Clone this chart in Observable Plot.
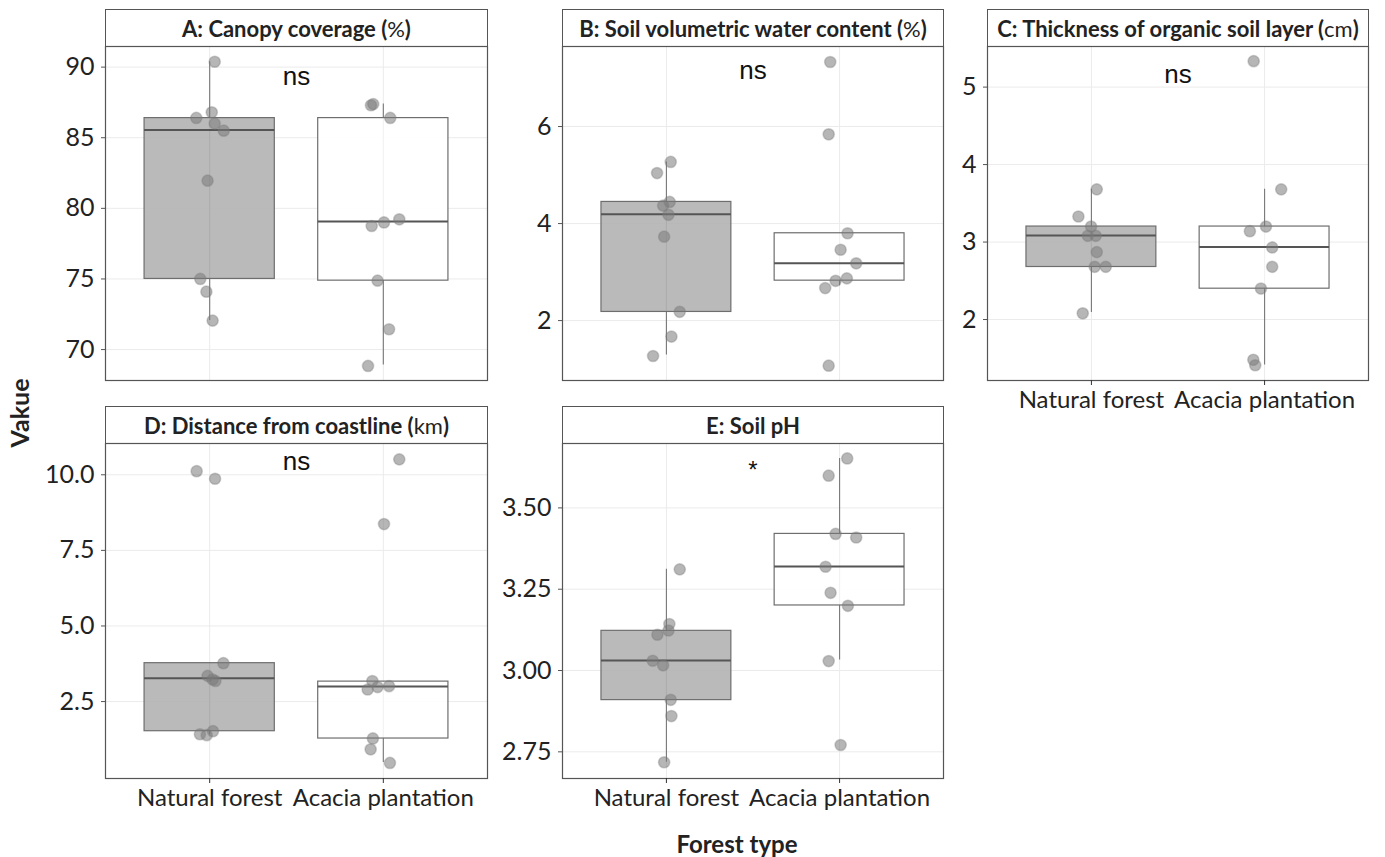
<!DOCTYPE html>
<html><head><meta charset="utf-8">
<script src="https://cdn.jsdelivr.net/npm/d3@7"></script>
<script src="https://cdn.jsdelivr.net/npm/@observablehq/plot@0.6"></script>
<style>
body{margin:0;background:#fff;}
#chart{position:relative;width:1385px;height:857px;font-family:Lato, sans-serif;color:#222;overflow:hidden;}
.strip{position:absolute;box-sizing:border-box;border:1px solid #555;background:#fff;display:flex;align-items:center;justify-content:center;font-weight:bold;font-size:22px;color:#222;white-space:nowrap;}
.strip .unit{font-weight:normal}
.panel{position:absolute}
.glabel{position:absolute;font-weight:bold;color:#222;white-space:nowrap;}
</style></head><body><div id="chart"></div><script>
// ---- data ----
const categories = ["Natural forest", "Acacia plantation"];
const titles = ["A: Canopy coverage", "B: Soil volumetric water content", "C: Thickness of organic soil layer", "D: Distance from coastline", "E: Soil pH"];
const units = ["%", "%", "cm", "km", ""];
const sigLabels = ["ns", "ns", "ns", "ns", "*"];
const sigY = [89.3, 7.15, 5.16, 10.45, 3.615];

// A: Canopy coverage
const A_nf = [90.38, 86.8, 86.4, 86.0, 85.5, 81.96, 75.0, 74.1, 72.05];
const A_nf_jit = [0.029, 0.012, -0.077, 0.029, 0.081, -0.012, -0.054, -0.019, 0.017];
const A_ac = [87.3, 87.38, 86.4, 78.75, 79.0, 79.22, 74.88, 71.44, 68.84];
const A_ac_jit = [-0.071, -0.058, 0.040, -0.067, 0.004, 0.092, -0.033, 0.033, -0.088];
const A_q1 = [75.0, 74.88], A_med = [85.54, 79.06], A_q3 = [86.39, 86.39], A_wlo = [72.05, 68.9], A_whi = [90.38, 87.38];
const A_ticks = [70, 75, 80, 85, 90];

// B: Soil volumetric water content
const B_nf = [5.27, 5.04, 4.446, 4.37, 4.18, 3.73, 2.18, 1.67, 1.27];
const B_nf_jit = [0.025, -0.054, 0.019, -0.019, 0.012, -0.013, 0.077, 0.029, -0.077];
const B_ac = [7.33, 5.84, 3.80, 3.46, 3.18, 2.82, 2.87, 2.67, 1.07];
const B_ac_jit = [-0.054, -0.063, 0.046, 0.006, 0.096, -0.023, 0.042, -0.083, -0.063];
const B_q1 = [2.178, 2.823], B_med = [4.19, 3.18], B_q3 = [4.446, 3.80], B_wlo = [1.29, 2.72], B_whi = [5.27, 3.80];
const B_ticks = [2, 4, 6];

// C: Thickness of organic soil layer
const C_nf = [3.68, 3.33, 3.20, 3.08, 3.08, 2.87, 2.68, 2.68, 2.08];
const C_nf_jit = [0.031, -0.075, -0.002, -0.021, 0.025, 0.031, 0.019, 0.083, -0.05];
const C_ac = [5.335, 3.68, 3.20, 3.14, 2.93, 2.68, 2.40, 1.48, 1.41];
const C_ac_jit = [-0.063, 0.096, 0.008, -0.085, 0.044, 0.044, -0.021, -0.065, -0.054];
const C_q1 = [2.678, 2.398], C_med = [3.086, 2.936], C_q3 = [3.20, 3.20], C_wlo = [2.09, 1.414], C_whi = [3.68, 3.68];
const C_ticks = [2, 3, 4, 5];

// D: Distance from coastline
const D_nf = [10.12, 9.87, 3.77, 3.35, 3.23, 3.18, 1.42, 1.39, 1.52];
const D_nf_jit = [-0.075, 0.031, 0.079, -0.012, 0.017, 0.033, -0.056, -0.017, 0.019];
const D_ac = [10.51, 8.37, 3.18, 2.9, 2.98, 3.01, 1.28, 0.92, 0.47];
const D_ac_jit = [0.092, 0.004, -0.063, -0.09, -0.033, 0.033, -0.06, -0.073, 0.038];
const D_q1 = [1.52, 1.278], D_med = [3.27, 3.0], D_q3 = [3.77, 3.16], D_wlo = [1.40, 0.485], D_whi = [3.77, 3.16];
const D_ticks = [2.5, 5.0, 7.5, 10.0];

// E: Soil pH
const E_nf = [3.311, 3.143, 3.123, 3.110, 3.030, 3.016, 2.910, 2.860, 2.718];
const E_nf_jit = [0.077, 0.017, 0.012, -0.052, -0.079, -0.019, 0.025, 0.029, -0.013];
const E_ac = [3.652, 3.599, 3.42, 3.409, 3.319, 3.239, 3.199, 3.029, 2.771];
const E_ac_jit = [0.044, -0.063, -0.023, 0.096, -0.081, -0.052, 0.048, -0.063, 0.006];
const E_q1 = [2.909, 3.200], E_med = [3.031, 3.320], E_q3 = [3.122, 3.420], E_wlo = [2.718, 3.032], E_whi = [3.311, 3.652];
const E_ticks = [2.75, 3.00, 3.25, 3.50];

// ---- layout ----
const boxFills = ["#b3b3b3", "#ffffff"];
const panels = [
  {nf: A_nf, nfj: A_nf_jit, ac: A_ac, acj: A_ac_jit, q1: A_q1, med: A_med, q3: A_q3, wlo: A_wlo, whi: A_whi, ticks: A_ticks, fmt: d3.format("d"), dom: [67.81, 91.46], col: 0, row: 0, xaxis: false},
  {nf: B_nf, nfj: B_nf_jit, ac: B_ac, acj: B_ac_jit, q1: B_q1, med: B_med, q3: B_q3, wlo: B_wlo, whi: B_whi, ticks: B_ticks, fmt: d3.format("d"), dom: [0.765, 7.65], col: 1, row: 0, xaxis: false},
  {nf: C_nf, nfj: C_nf_jit, ac: C_ac, acj: C_ac_jit, q1: C_q1, med: C_med, q3: C_q3, wlo: C_wlo, whi: C_whi, ticks: C_ticks, fmt: d3.format("d"), dom: [1.213, 5.524], col: 2, row: 0, xaxis: true},
  {nf: D_nf, nfj: D_nf_jit, ac: D_ac, acj: D_ac_jit, q1: D_q1, med: D_med, q3: D_q3, wlo: D_wlo, whi: D_whi, ticks: D_ticks, fmt: d3.format(".1f"), dom: [-0.044, 11.035], col: 0, row: 1, xaxis: true},
  {nf: E_nf, nfj: E_nf_jit, ac: E_ac, acj: E_ac_jit, q1: E_q1, med: E_med, q3: E_q3, wlo: E_wlo, whi: E_whi, ticks: E_ticks, fmt: d3.format(".2f"), dom: [2.668, 3.698], col: 1, row: 1, xaxis: true}
];
const colSvgLeft = [0, 490, 945];
const colPlotLeft = [105, 562, 987];
const colPlotRight = [487, 943, 1368];
const rowStripTop = [9, 406];
const rowPlotTop = [46, 443];
const rowPlotBottom = [380, 778];

const chart = document.getElementById("chart");

panels.forEach((p, k) => {
  const svgLeft = colSvgLeft[p.col], pl = colPlotLeft[p.col], pr = colPlotRight[p.col];
  const st = rowStripTop[p.row], pt = rowPlotTop[p.row], pb = rowPlotBottom[p.row];
  // strip
  const strip = document.createElement("div");
  strip.className = "strip";
  Object.assign(strip.style, {left: pl + "px", top: st + "px", width: (pr - pl + 1) + "px", height: (pt - st + 1) + "px"});
  strip.innerHTML = titles[k] + (units[k] ? '&nbsp;(<span class="unit">' + units[k] + '</span>)' : "");
  chart.appendChild(strip);

  const boxes = categories.map((c, i) => ({pos: i + 1, q1: p.q1[i], med: p.med[i], q3: p.q3[i], wlo: p.wlo[i], whi: p.whi[i], fill: boxFills[i]}));
  const pts = [
    ...p.nf.map((v, j) => ({pos: 1, v, jit: p.nfj[j]})),
    ...p.ac.map((v, j) => ({pos: 2, v, jit: p.acj[j]}))
  ];
  const mb = p.xaxis ? 46 : 2;
  const marks = [
    Plot.gridY(p.ticks, {stroke: "#ebebeb", strokeOpacity: 1}),
    Plot.gridX([1, 2], {stroke: "#ebebeb", strokeOpacity: 1}),
    Plot.ruleX(boxes, {x: "pos", y1: "wlo", y2: "whi", stroke: "#777", strokeWidth: 1.1}),
    Plot.rect(boxes, {x1: d => d.pos - 0.375, x2: d => d.pos + 0.375, y1: "q1", y2: "q3", fill: "fill", fillOpacity: 0.9, stroke: "#6e6e6e", strokeWidth: 1.2}),
    Plot.ruleY(boxes, {y: "med", x1: d => d.pos - 0.375, x2: d => d.pos + 0.375, stroke: "#555", strokeWidth: 2}),
    Plot.dot(pts, {x: d => d.pos + d.jit, y: "v", r: 5.6, fill: "#7a7a7a", fillOpacity: 0.55, stroke: "#777", strokeOpacity: 0.35}),
    Plot.text([sigLabels[k]], {x: 1.5, y: sigY[k], text: d => d, fontSize: sigLabels[k] === "*" ? 24 : 26, fontFamily: "Liberation Sans, Arial, sans-serif", fill: "#111"}),
    Plot.axisY(p.ticks, {tickSize: 4, tickPadding: 7, tickFormat: p.fmt, fontSize: 25, stroke: "#555", label: null}),
    Plot.frame({stroke: "#555", strokeWidth: 1.2})
  ];
  if (p.xaxis) marks.push(Plot.axisX([1, 2], {tickSize: 5, tickPadding: 5, tickFormat: i => categories[i - 1], fontSize: 24, stroke: "#333", label: null}));
  const svg = Plot.plot({
    width: pr - svgLeft + 2,
    height: 1 + (pb - pt) + mb,
    marginLeft: pl - svgLeft,
    marginRight: 2,
    marginTop: 1,
    marginBottom: mb,
    x: {domain: [0.4, 2.6], axis: null},
    y: {domain: p.dom, axis: null},
    color: {type: "identity"},
    style: {fontFamily: "Lato, sans-serif", color: "#222", background: "transparent", overflow: "visible"},
    marks
  });
  const wrap = document.createElement("div");
  wrap.className = "panel";
  Object.assign(wrap.style, {left: svgLeft + "px", top: (pt - 1) + "px"});
  wrap.appendChild(svg);
  chart.appendChild(wrap);
});

// global axis titles
const yl = document.createElement("div");
yl.className = "glabel";
yl.textContent = "Vakue";
Object.assign(yl.style, {left: "19px", top: "413px", fontSize: "25px", transform: "translate(-50%,-50%) rotate(-90deg)"});
chart.appendChild(yl);
const xl = document.createElement("div");
xl.className = "glabel";
xl.textContent = "Forest type";
Object.assign(xl.style, {left: "737px", top: "843px", fontSize: "24px", transform: "translate(-50%,-50%)"});
chart.appendChild(xl);
</script></body></html>
